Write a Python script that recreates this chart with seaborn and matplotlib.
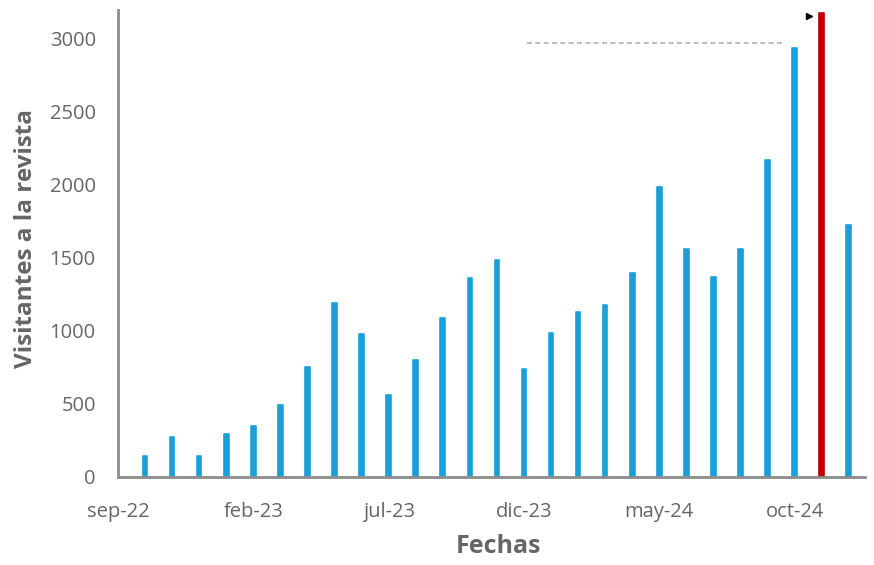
import matplotlib
matplotlib.use("Agg")
import matplotlib.pyplot as plt
import seaborn as sns
import pandas as pd
import numpy as np

# ---- data ----
months = ["oct-22", "nov-22", "dic-22", "ene-23", "feb-23", "mar-23", "abr-23", "may-23", "jun-23",
          "jul-23", "ago-23", "sep-23", "oct-23", "nov-23", "dic-23", "ene-24", "feb-24", "mar-24",
          "abr-24", "may-24", "jun-24", "jul-24", "ago-24", "sep-24", "oct-24", "nov-24", "dic-24"]
visitors = [145, 270, 145, 295, 350, 495, 755, 1190, 980,
            562, 800, 1085, 1360, 1485, 740, 985, 1130, 1175,
            1395, 1985, 1560, 1370, 1560, 2165, 2930, 3170, 1720]
highlight = "nov-24"
tick_labels = ["sep-22", "feb-23", "jul-23", "dic-23", "may-24", "oct-24"]
ytick_values = [0, 500, 1000, 1500, 2000, 2500, 3000]

BLUE = "#1a9fd9"
RED = "#c00000"
GREY = "#8c8c8c"
TXT = "#666666"

sns.set_style("white")
plt.rcParams["font.family"] = ["Open Sans", "DejaVu Sans"]

df = pd.DataFrame({"mes": months, "visitantes": visitors})
df["pos"] = np.arange(1, len(months) + 1)
df["grupo"] = np.where(df["mes"] == highlight, "destacado", "normal")

fig = plt.figure(figsize=(8.74, 5.65), dpi=100)
ax = fig.add_axes([118 / 874, 1 - 477 / 565, (865 - 118) / 874, (477 - 10) / 565])

sns.barplot(data=df, x="pos", y="visitantes", hue="grupo", native_scale=True,
            palette={"normal": BLUE, "destacado": RED}, width=0.17, dodge=False,
            legend=False, ax=ax, saturation=1)
for p in ax.patches:
    p.set_edgecolor(p.get_facecolor())
    p.set_linewidth(1.2)
    p.set_joinstyle("round")

ax.set_xlim(0, 27.6)
ax.set_ylim(0, 3192)
ax.set_xticks([0, 5, 10, 15, 20, 25])
ax.set_xticklabels(tick_labels)
ax.set_yticks(ytick_values)
ax.set_yticklabels([str(v) for v in ytick_values])

for s in ["top", "right"]:
    ax.spines[s].set_visible(False)
for s in ["left", "bottom"]:
    ax.spines[s].set_color(GREY)
    ax.spines[s].set_linewidth(2)
    ax.spines[s].set_zorder(6)

ax.tick_params(axis="both", direction="in", length=5, width=2, color=GREY,
               labelcolor=TXT, labelsize=14.5)
ax.tick_params(axis="y", pad=16)
ax.tick_params(axis="x", pad=18)

ax.set_xlabel("Fechas", fontsize=18, fontweight="bold", color=TXT)
ax.xaxis.set_label_coords(0.509, -0.123)
ax.set_ylabel("Visitantes a la revista", fontsize=17.5, fontweight="bold", color=TXT)
ax.yaxis.set_label_coords(-0.107, 0.51)

# faint annotation remnants at top
ax.plot([15.1, 24.6], [2966, 2966], color="#b0b0b0", lw=1.2, ls=(0, (3, 2)), zorder=1)
ax.plot([25.52], [3150], marker=">", color="black", markersize=5, zorder=5)

fig.savefig("out.png", dpi=100)
